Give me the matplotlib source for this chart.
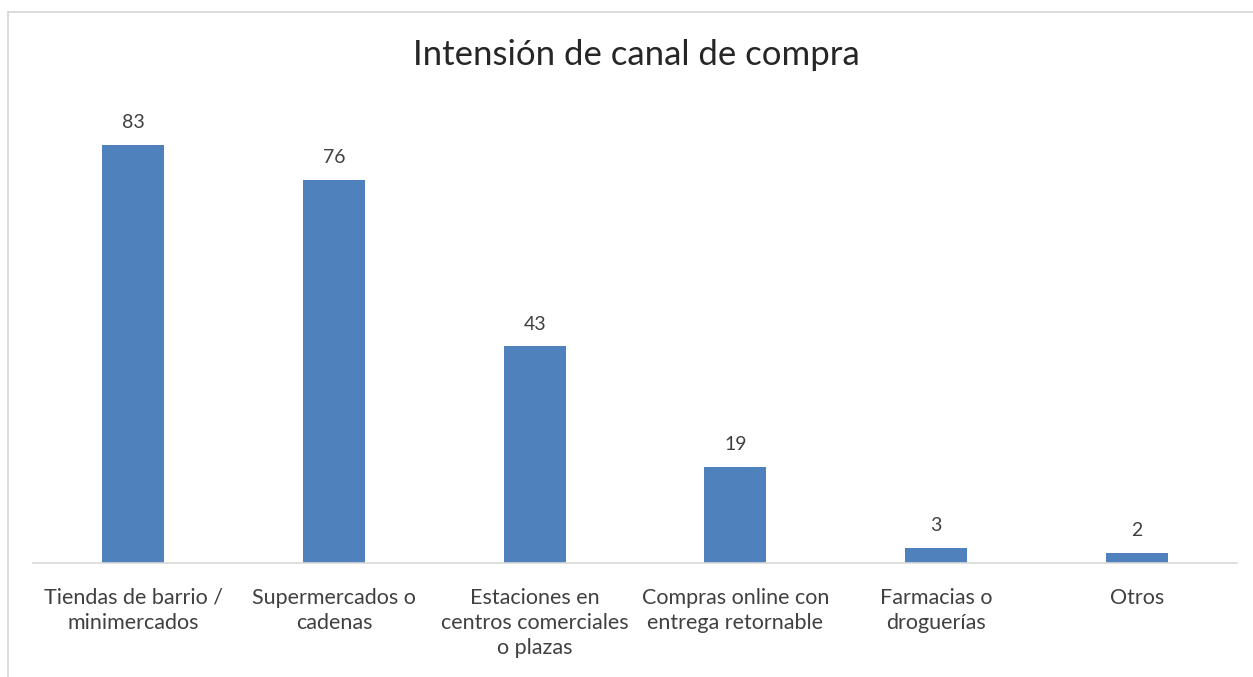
import matplotlib
matplotlib.use("Agg")
import matplotlib.pyplot as plt
from matplotlib.lines import Line2D

categories = ["Tiendas de barrio /\nminimercados", "Supermercados o\ncadenas",
              "Estaciones en\ncentros comerciales\no plazas", "Compras online con\nentrega retornable",
              "Farmacias o\ndroguerías", "Otros"]
values = [83, 76, 43, 19, 3, 2]
title = "Intensión de canal de compra"

W, H = 1253, 677
plt.rcParams['font.family'] = ['Lato', 'DejaVu Sans']
fig = plt.figure(figsize=(W/100, H/100), dpi=100)
fig.patch.set_facecolor("white")

# chart border (only top/left visible in crop)
bx, by = 7.5/W, 1 - 11.5/H
fig.add_artist(Line2D([bx, 1.0], [by, by], transform=fig.transFigure, color="#d4d4d4", linewidth=1.2))
fig.add_artist(Line2D([bx, bx], [0, by], transform=fig.transFigure, color="#d4d4d4", linewidth=1.2))

ax_left, ax_right = 33, 1237
ax_bottom = 563
ymax = 90
top_px = ax_bottom - ymax * (418/83)
ax = fig.add_axes([ax_left/W, (H-ax_bottom)/H, (ax_right-ax_left)/W, (ax_bottom-top_px)/H])
x = list(range(len(categories)))
bars = ax.bar(x, values, width=0.31, color="#4F81BD")
ax.set_xlim(-0.5, len(categories)-0.5)
ax.set_ylim(0, ymax)
for s in ["top", "right", "left"]:
    ax.spines[s].set_visible(False)
ax.spines["bottom"].set_color("#d9d9d9")
ax.spines["bottom"].set_linewidth(1.2)
ax.set_yticks([])
ax.set_xticks(x)
ax.set_xticklabels(categories, fontsize=15.5, color="#404040", linespacing=1.3)
ax.tick_params(axis="x", length=0, pad=18)
for xi, v in zip(x, values):
    ax.annotate(str(v), (xi, v), xytext=(0, 10), textcoords="offset points",
                ha="center", va="bottom", fontsize=14, color="#404040")

fig.text(636/W, 1 - 55/H, title, ha="center", va="center", fontsize=25, color="#262626")
fig.savefig("out.png", dpi=100, facecolor="white")
